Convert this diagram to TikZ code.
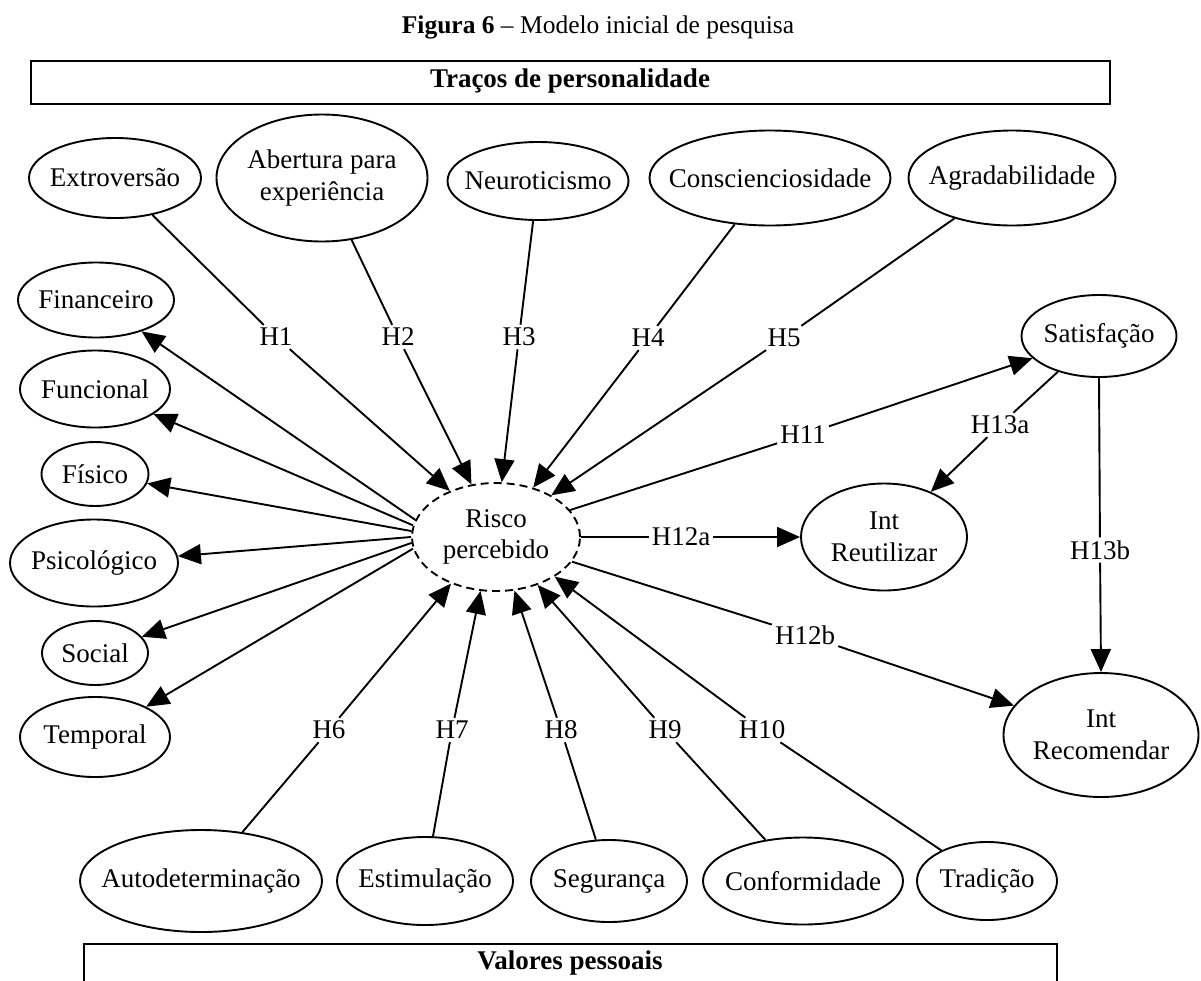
\documentclass[tikz,border=0pt]{standalone}
\usepackage{fontspec}
\setmainfont{Liberation Serif}
\usetikzlibrary{shapes.geometric,arrows.meta}

\begin{document}
\begin{tikzpicture}[x=1pt,y=-1pt,
  txt/.style={font=\fontsize{27}{31.5}\selectfont},
  % ellipse: width, height, text
  oval/.style n args={3}{ellipse, draw, line width=1.9pt, inner sep=0pt,
    minimum width=#1, minimum height=#2,
    label={[txt, align=center, inner sep=0pt]center:#3}},
  lbl/.style={txt, inner sep=3pt},
  link/.style={line width=1.9pt},
  arr/.style={line width=1.9pt, -{Triangle[length=23pt,width=20pt]}},
  frame/.style={draw, line width=2pt, inner sep=0pt},
  frametext/.style={font=\fontsize{27}{30}\selectfont\bfseries}
]
\useasboundingbox (0,0) rectangle (1201,980);

% title
\node[font=\fontsize{25.5}{28}\selectfont, anchor=base] (title) at (598,33)
  {\textbf{Figura 6} -- Modelo inicial de pesquisa};

% group frames
\node[frame, minimum width=1079pt, minimum height=43pt, anchor=north west] (traits) at (30,60) {};
\node[frametext] (traitstxt) at (570,81) {Traços de personalidade};
\node[frame, minimum width=973pt, minimum height=90pt, anchor=north west] (values) at (83,943) {};
\node[frametext] (valuestxt) at (570,963) {Valores pessoais};

% personality traits
\node[oval={172pt}{80pt}{Extroversão}] (ext) at (115,178) {};
\node[oval={211pt}{127pt}{Abertura para\\experiência}] (abe) at (322,178) {};
\node[oval={181pt}{78pt}{Neuroticismo}] (neu) at (538,181) {};
\node[oval={241pt}{95pt}{Conscienciosidade}] (con) at (770,178) {};
\node[oval={207pt}{95pt}{Agradabilidade}] (agr) at (1012,178) {};

% central construct
\node[oval={168pt}{108pt}{Risco\\percebido}, dash pattern=on 8pt off 5pt] (risk) at (496,537) {};

% risk dimensions
\node[oval={156pt}{75pt}{Financeiro}] (fin) at (96,300) {};
\node[oval={150pt}{77pt}{Funcional}] (fun) at (95,389) {};
\node[oval={107pt}{64pt}{Físico}] (fis) at (95,474) {};
\node[oval={168pt}{87pt}{Psicológico}] (psi) at (94,563) {};
\node[oval={106pt}{64pt}{Social}] (soc) at (95,653) {};
\node[oval={150pt}{80pt}{Temporal}] (tem) at (95,737) {};

% outcomes
\node[oval={155pt}{82pt}{Satisfação}] (sat) at (1099,336) {};
\node[oval={166pt}{107pt}{Int\\Reutilizar}] (reu) at (884,537) {};
\node[oval={195pt}{124pt}{Int\\Recomendar}] (rec) at (1101,735) {};

% personal values
\node[oval={242pt}{102pt}{Autodeterminação}] (aut) at (201,881) {};
\node[oval={176pt}{88pt}{Estimulação}] (est) at (425,881) {};
\node[oval={156pt}{82pt}{Segurança}] (seg) at (609,881) {};
\node[oval={200pt}{87pt}{Conformidade}] (cnf) at (803,881) {};
\node[oval={140pt}{78pt}{Tradição}] (tra) at (987,881) {};

% hypothesis labels
\node[lbl] (h1) at (276,337) {H1};
\node[lbl] (h2) at (398,337) {H2};
\node[lbl] (h3) at (519,337) {H3};
\node[lbl] (h4) at (648,338) {H4};
\node[lbl] (h5) at (784,338) {H5};
\node[lbl] (h6) at (329,730) {H6};
\node[lbl] (h7) at (452,730) {H7};
\node[lbl] (h8) at (561,730) {H8};
\node[lbl] (h9) at (665,730) {H9};
\node[lbl] (h10) at (762,730) {H10};
\node[lbl] (h11) at (803,435) {H11};
\node[lbl] (h12a) at (681,537) {H12a};
\node[lbl] (h12b) at (805,635) {H12b};
\node[lbl] (h13a) at (1000,425) {H13a};
\node[lbl] (h13b) at (1100,550) {H13b};

% traits -> risk
\draw[link] (ext) -- (h1);  \draw[arr] (h1) -- (risk.135);
\draw[link] (abe) -- (h2);  \draw[arr] (h2) -- (risk.115);
\draw[link] (neu) -- (h3);  \draw[arr] (h3) -- (risk.84);
\draw[link] (con) -- (h4);  \draw[arr] (h4) -- (risk.53);
\draw[link] (agr) -- (h5);  \draw[arr] (h5) -- (risk.37);

% values -> risk
\draw[link] (aut) -- (h6);  \draw[arr] (h6) -- (risk.226);
\draw[link] (est) -- (h7);  \draw[arr] (h7) -- (risk.254);
\draw[link] (seg) -- (h8);  \draw[arr] (h8) -- (risk.289);
\draw[link] (cnf) -- (h9);  \draw[arr] (h9) -- (risk.311);
\draw[link] (tra) -- (h10); \draw[arr] (h10) -- (risk.326);

% risk -> dimensions
\draw[arr] (risk.168) -- (fin);
\draw[arr] (risk.172) -- (fun);
\draw[arr] (risk.176) -- (fis);
\draw[arr] (risk.180) -- (psi);
\draw[arr] (risk.184) -- (soc);
\draw[arr] (risk.188) -- (tem);

% risk -> outcomes
\draw[link] (risk.20) -- (h11);    \draw[arr] (h11) -- (sat);
\draw[link] (risk.east) -- (h12a); \draw[arr] (h12a) -- (reu);
\draw[link] (risk.-18) -- (h12b);  \draw[arr] (h12b) -- (rec);
\draw[link] (sat.-139) -- (h13a);  \draw[arr] (h13a) -- (reu);
\draw[link] (sat.south) -- (h13b); \draw[arr] (h13b) -- (rec.north);
\end{tikzpicture}
\end{document}
